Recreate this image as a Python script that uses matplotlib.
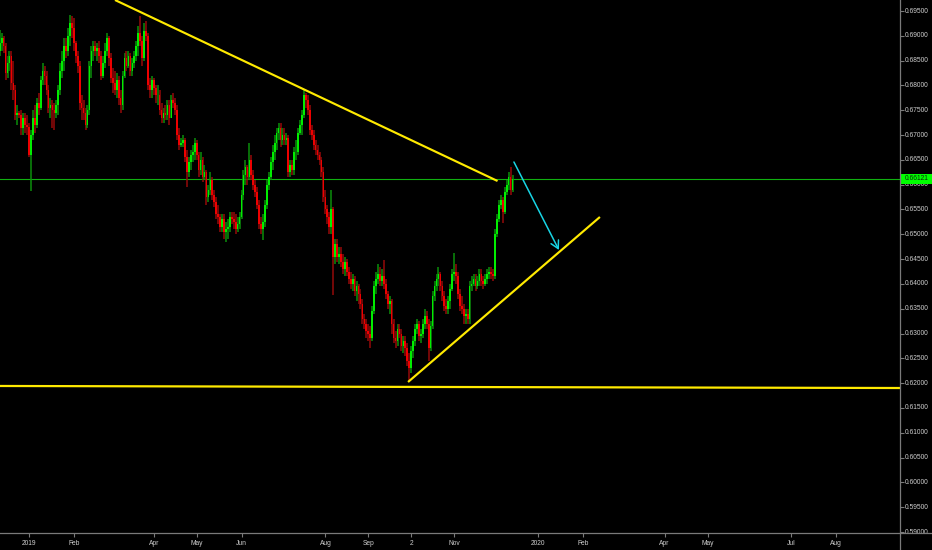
import numpy as np
import pandas as pd
import matplotlib
matplotlib.use("Agg")
import matplotlib.pyplot as plt
from matplotlib import transforms
from matplotlib.lines import Line2D

# ---------------- data (daily bars, prices in 1e-4 units) ----------------
first_bar = "2018-12-11"
last_bar = "2019-12-13"
first_open = 6870

close_px = [
    6885, 6895, 6880, 6825, 6845, 6860, 6805, 6790, 6740, 6745, 6740, 6715, 6735, 6720, 6716,
    6660, 6700, 6735, 6720, 6765, 6755, 6810, 6830, 6820, 6790, 6755, 6760, 6750, 6745, 6760, 6790, 6830, 6850, 6880, 6870, 6900, 6925, 6915,
    6885, 6860, 6840, 6765, 6755, 6745, 6720, 6750, 6840, 6870, 6880, 6870, 6875, 6860, 6820, 6845, 6870, 6895, 6855, 6815,
    6805, 6790, 6810, 6775, 6760, 6820, 6855, 6840, 6860, 6830, 6845, 6860, 6880, 6905, 6890, 6855, 6910, 6900, 6800, 6790, 6810,
    6795, 6780, 6780, 6750, 6735, 6745, 6740, 6760, 6735, 6770, 6765, 6750, 6700, 6680, 6685, 6690, 6655, 6625, 6645, 6660, 6665, 6685,
    6660, 6630, 6650, 6615, 6625, 6575, 6590, 6610, 6580, 6565, 6540, 6535, 6515, 6530, 6505, 6510, 6515, 6535, 6530, 6525, 6510, 6520, 6535,
    6580, 6620, 6635, 6615, 6650, 6620, 6600, 6585, 6560, 6520, 6510, 6525, 6560, 6600, 6615, 6645, 6665, 6685, 6705, 6715,
    6690, 6700, 6690, 6695, 6625, 6640, 6630, 6665, 6665, 6705, 6720, 6740, 6780, 6770, 6750, 6710, 6700, 6680, 6670, 6660, 6650, 6625, 6575,
    6550, 6535, 6515, 6550, 6455, 6480, 6455, 6460, 6445, 6430, 6445, 6425, 6410, 6400, 6410, 6385, 6395, 6380, 6360, 6330, 6320, 6305,
    6300, 6290, 6345, 6395, 6410, 6420, 6405, 6415, 6400, 6380, 6360, 6365, 6320, 6290, 6285, 6310, 6300, 6275, 6285, 6270, 6245,
    6230, 6265, 6285, 6310, 6320, 6295, 6300, 6320, 6335, 6320, 6270, 6315, 6375, 6395, 6410, 6420, 6395, 6375, 6355, 6350, 6365, 6390, 6420,
    6425, 6415, 6380, 6355, 6350, 6335, 6340, 6330, 6395, 6400, 6410, 6395, 6405, 6420, 6405, 6400, 6410, 6420, 6425, 6420, 6415,
    6500, 6530, 6560, 6570, 6545, 6585, 6600, 6615, 6590, 6612.1,
]
high_px = [
    6912, 6905, 6900, 6885, 6860, 6870, 6870, 6850, 6800, 6760, 6748, 6750, 6745, 6745, 6740,
    6725, 6710, 6750, 6760, 6775, 6785, 6820, 6845, 6840, 6830, 6800, 6775, 6770, 6765, 6770, 6800, 6845, 6870, 6895, 6895, 6915, 6942, 6940,
    6935, 6890, 6870, 6850, 6780, 6770, 6755, 6760, 6850, 6880, 6890, 6890, 6885, 6890, 6870, 6860, 6885, 6905, 6900, 6865,
    6835, 6830, 6825, 6820, 6790, 6830, 6865, 6870, 6870, 6865, 6855, 6870, 6890, 6920, 6939, 6900, 6925, 6930, 6905, 6815, 6820,
    6815, 6800, 6800, 6790, 6765, 6755, 6760, 6770, 6770, 6780, 6785, 6775, 6760, 6715, 6695, 6700, 6695, 6670, 6655, 6670, 6680, 6695,
    6690, 6665, 6665, 6655, 6640, 6630, 6600, 6625, 6615, 6590, 6575, 6560, 6540, 6540, 6540, 6525, 6530, 6545, 6545, 6545, 6540, 6535, 6545,
    6590, 6630, 6650, 6640, 6685, 6660, 6630, 6610, 6595, 6570, 6535, 6540, 6570, 6610, 6625, 6655, 6680, 6700, 6715, 6725,
    6725, 6715, 6715, 6705, 6700, 6650, 6650, 6675, 6690, 6715, 6730, 6750, 6790, 6785, 6780, 6760, 6720, 6710, 6690, 6680, 6665, 6655, 6635,
    6590, 6560, 6545, 6590, 6555, 6490, 6490, 6475, 6475, 6460, 6455, 6450, 6435, 6425, 6420, 6415, 6405, 6400, 6390, 6370, 6340, 6330,
    6320, 6315, 6355, 6405, 6425, 6440, 6435, 6430, 6448, 6410, 6385, 6375, 6370, 6330, 6305, 6320, 6320, 6310, 6295, 6295, 6280,
    6260, 6275, 6295, 6320, 6330, 6325, 6310, 6330, 6350, 6345, 6330, 6325, 6385, 6405, 6420, 6435, 6425, 6405, 6385, 6370, 6375, 6400, 6430,
    6462, 6440, 6425, 6390, 6375, 6360, 6350, 6350, 6405, 6415, 6420, 6420, 6415, 6430, 6430, 6415, 6420, 6430, 6435, 6435, 6430,
    6510, 6540, 6570, 6580, 6575, 6595, 6610, 6625, 6636, 6620,
]
low_px = [
    6860, 6870, 6865, 6810, 6815, 6830, 6790, 6770, 6730, 6720, 6735, 6700, 6700, 6705, 6700,
    6655, 6587, 6690, 6705, 6715, 6740, 6750, 6800, 6800, 6780, 6745, 6735, 6715, 6710, 6735, 6740, 6780, 6815, 6830, 6855, 6860, 6880, 6895,
    6870, 6845, 6825, 6750, 6730, 6730, 6710, 6715, 6740, 6815, 6850, 6860, 6850, 6845, 6810, 6815, 6835, 6860, 6840, 6805,
    6785, 6780, 6775, 6760, 6745, 6750, 6815, 6830, 6835, 6820, 6820, 6835, 6850, 6860, 6880, 6840, 6850, 6890, 6790, 6775, 6775,
    6780, 6765, 6760, 6740, 6725, 6725, 6730, 6730, 6720, 6735, 6755, 6740, 6690, 6670, 6675, 6675, 6645, 6595, 6615, 6630, 6645, 6650,
    6650, 6615, 6620, 6605, 6610, 6560, 6565, 6580, 6570, 6555, 6530, 6520, 6505, 6505, 6490, 6485, 6490, 6505, 6520, 6510, 6500, 6505, 6510,
    6530, 6570, 6600, 6600, 6610, 6610, 6590, 6575, 6550, 6510, 6500, 6488, 6515, 6550, 6590, 6610, 6630, 6650, 6670, 6690,
    6675, 6680, 6680, 6680, 6615, 6615, 6620, 6620, 6650, 6660, 6700, 6700, 6735, 6755, 6740, 6700, 6690, 6670, 6660, 6650, 6640, 6615, 6565,
    6540, 6520, 6500, 6500, 6378, 6440, 6445, 6440, 6435, 6420, 6415, 6415, 6400, 6390, 6385, 6375, 6365, 6360, 6350, 6320, 6310, 6290,
    6285, 6270, 6285, 6340, 6380, 6400, 6395, 6395, 6390, 6370, 6350, 6340, 6300, 6280, 6270, 6275, 6290, 6265, 6260, 6255, 6235,
    6204, 6220, 6250, 6275, 6300, 6285, 6280, 6290, 6310, 6310, 6245, 6265, 6310, 6365, 6385, 6395, 6385, 6365, 6345, 6340, 6340, 6350, 6385,
    6405, 6400, 6370, 6345, 6340, 6320, 6320, 6320, 6320, 6385, 6395, 6385, 6390, 6395, 6395, 6390, 6395, 6400, 6410, 6410, 6405,
    6410, 6495, 6525, 6550, 6523, 6540, 6580, 6590, 6580, 6585,
]

last_price = 0.66121

# price scale ticks
y_ticks = [0.590, 0.595, 0.600, 0.605, 0.610, 0.615, 0.620, 0.625, 0.630, 0.635, 0.640,
           0.645, 0.650, 0.655, 0.660, 0.665, 0.670, 0.675, 0.680, 0.685, 0.690, 0.695]

# time scale ticks
tick_dates = ["2019-01-01", "2019-02-01", "2019-04-01", "2019-05-01", "2019-06-03",
              "2019-08-01", "2019-09-02", "2019-10-02", "2019-11-01", "2020-01-01",
              "2020-02-03", "2020-04-01", "2020-05-01", "2020-07-01", "2020-08-03"]
tick_labels = ["2019", "Feb", "Apr", "May", "Jun", "Aug", "Sep", "2", "Nov", "2020",
               "Feb", "Apr", "May", "Jul", "Aug"]

# drawings (x in bars from 2019-01-01, y in price)
down_line_x = [44.1, 240.3]
down_line_y = [0.69722, 0.66074]
support_x = [-15.0, 447.0]
support_y = [0.61943, 0.61902]
rising_x = [194.4, 292.8]
rising_y = [0.62023, 0.65349]
arrow_start = (248.7, 0.66457)
arrow_end = (271.8, 0.64683)

x_range = (-14.87, 446.7)
y_range = (0.58980, 0.69722)

# ---------------- build ----------------
cal = pd.bdate_range("2018-12-01", "2020-12-31")
origin = cal.get_loc(pd.Timestamp("2019-01-01"))
bar_dates = pd.bdate_range(first_bar, last_bar)
xs = np.array([cal.get_loc(d) - origin for d in bar_dates], dtype=float)

c = np.array(close_px, dtype=float) / 1e4
h = np.array(high_px, dtype=float) / 1e4
l = np.array(low_px, dtype=float) / 1e4
o = np.concatenate([[first_open / 1e4], c[:-1]])
assert len(c) == len(h) == len(l) == len(xs)
h = np.maximum(h, np.maximum(o, c))
l = np.minimum(l, np.minimum(o, c))

up = c >= o
body_col = np.where(up, "#00ee00", "#ee0000")
wick_col = np.where(up, "#0b8f0b", "#960a0a")

W, H = 932, 550
fig = plt.figure(figsize=(W / 100, H / 100), dpi=100, facecolor="#000000")
ax_left, ax_right, ax_bottom = 0, 900, 533
ax = fig.add_axes([ax_left / W, (H - ax_bottom) / H, (ax_right - ax_left) / W, ax_bottom / H])
ax.set_facecolor("#000000")
ax.set_xlim(*x_range)
ax.set_ylim(*y_range)

ax.vlines(xs, l, h, colors=wick_col, linewidth=1.1, zorder=2)
heights = np.maximum(np.abs(c - o), 0.00006)
ax.bar(xs, heights, bottom=np.minimum(o, c), width=0.85, color=body_col, linewidth=0, zorder=3)

# current price line
ax.axhline(last_price, color="#10b010", linewidth=0.8, zorder=1)

yellow = "#ffea00"
ax.plot(down_line_x, down_line_y, color=yellow, linewidth=1.55, solid_capstyle="butt", zorder=5)
ax.plot(support_x, support_y, color=yellow, linewidth=1.6, zorder=5)
ax.plot(rising_x, rising_y, color=yellow, linewidth=1.55, solid_capstyle="butt", zorder=5)
ax.annotate("", xy=arrow_end, xytext=arrow_start,
            arrowprops=dict(arrowstyle="->,head_length=0.55,head_width=0.3",
                            color="#18d4e4", lw=1.1, shrinkA=0, shrinkB=0), zorder=6)

for s in ax.spines.values():
    s.set_visible(False)

tick_pos = [cal.get_loc(pd.Timestamp(d)) - origin for d in tick_dates]
ax.set_xticks(tick_pos)
ax.set_xticklabels(tick_labels)
ax.tick_params(axis="x", colors="#7a7a7a", length=3, width=0.8, direction="out", pad=2,
               labelsize=4.8, labelcolor="#cfcfcf")
for t in ax.get_xticklabels():
    t.set_fontfamily("Liberation Sans")

ax.yaxis.set_ticks_position("right")
ax.set_yticks(y_ticks)
ax.tick_params(axis="y", colors="#7a7a7a", length=3, width=0.8, direction="out",
               labelright=False, labelleft=False)

blend = transforms.blended_transform_factory(ax.transAxes, ax.transData)
lab_trans = transforms.offset_copy(blend, fig=fig, x=4.5, y=0, units="dots")
clip = transforms.TransformedBbox(
    transforms.Bbox.from_extents(ax_right / W, (H - ax_bottom) / H, 1, 1), fig.transFigure)
for v in y_ticks:
    t = ax.text(1.0, v, f"{v:.5f}", transform=lab_trans, ha="left", va="center",
                fontsize=4.8, color="#cfcfcf", family="Liberation Sans", zorder=7)
    t.set_clip_on(True)
    t.set_clip_box(clip)

# last-price marker on the price scale
ax.add_patch(plt.Rectangle((1.0, last_price - 0.00098), 32 / 900, 0.00196, transform=blend,
                           facecolor="#00ff00", edgecolor="none", clip_on=False, zorder=8))
ax.text(1.0, last_price, f"{last_price:.5f}", transform=lab_trans, ha="left", va="center",
        fontsize=4.8, color="#0a2a0a", family="Liberation Sans", zorder=9, clip_on=False)

# scale border lines
fig.add_artist(Line2D([ax_right / W, ax_right / W], [0, 1], transform=fig.transFigure,
                      color="#7a7a7a", linewidth=0.9))
fig.add_artist(Line2D([0, 1], [(H - ax_bottom) / H, (H - ax_bottom) / H], transform=fig.transFigure,
                      color="#7a7a7a", linewidth=0.9))

fig.savefig("out.png", dpi=100, facecolor="#000000")
